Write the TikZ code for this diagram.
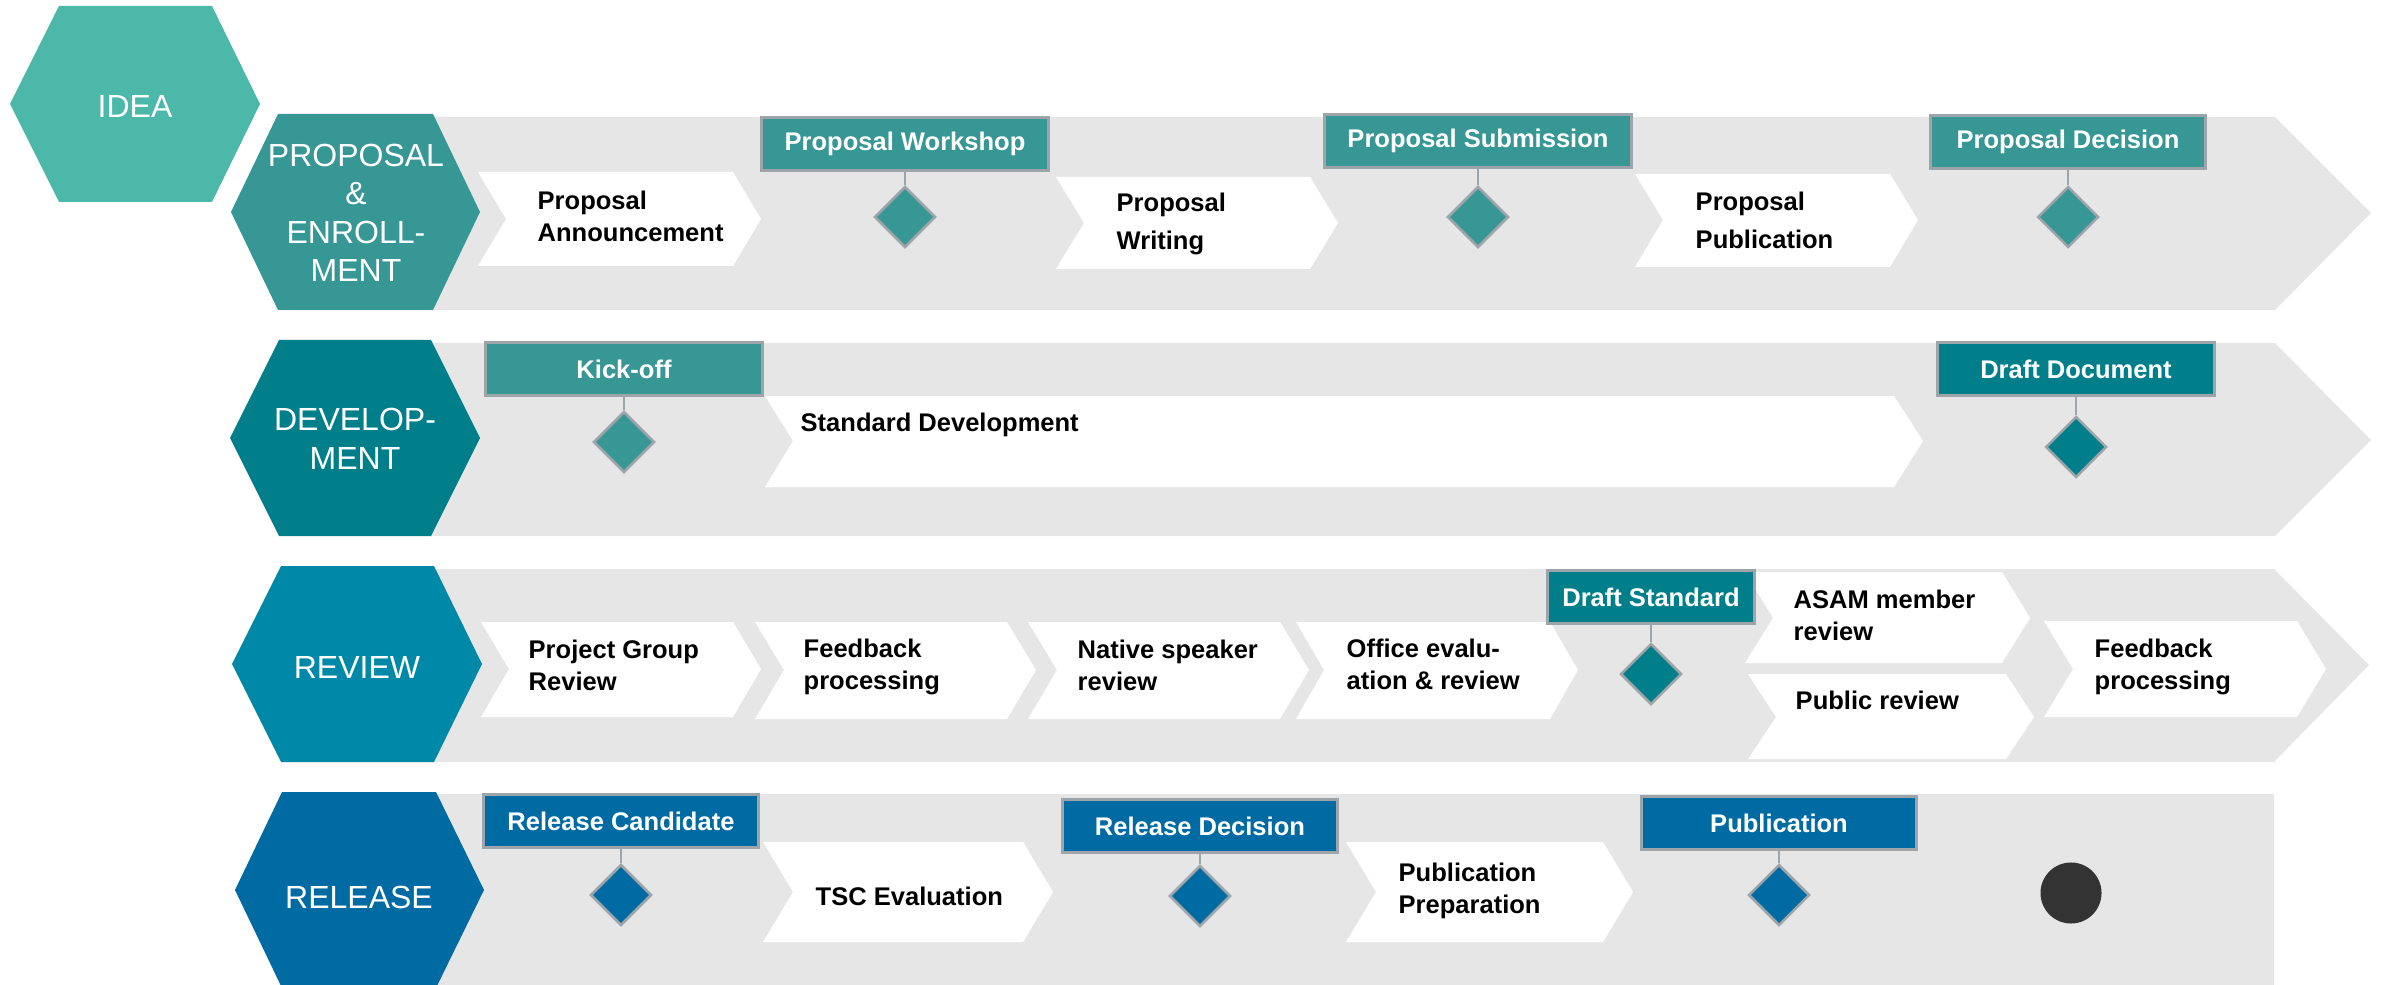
\documentclass[tikz,border=0pt]{standalone}
\usepackage{fontspec}
\setmainfont{Liberation Sans}
\usepackage{tikz}
\usetikzlibrary{shapes.geometric}
\pgfdeclarelayer{bg}
\pgfsetlayers{bg,main}

\definecolor{ideacol}{HTML}{4BB8AA}
\definecolor{propcol}{HTML}{379795}
\definecolor{devcol}{HTML}{007F8A}
\definecolor{revcol}{HTML}{0088A8}
\definecolor{relcol}{HTML}{006BA3}
\definecolor{bandcol}{HTML}{E6E6E6}
\definecolor{edgecol}{HTML}{9DA5AB}
\definecolor{dotcol}{HTML}{333333}

\newcommand{\phasefont}{\fontsize{9.1pt}{10.95pt}\selectfont}
\newcommand{\taskfont}{\fontsize{7.26pt}{9.1pt}\selectfont\bfseries}

\tikzset{
        phase/.style={text=white, align=center, font=\phasefont, inner sep=0pt},
        task/.style={anchor=west, align=left, font=\taskfont, inner sep=0pt},
        gate/.style={draw=edgecol, line width=0.03cm, minimum height=0.52cm, inner sep=0pt, text=white, font=\taskfont},
        gem/.style={shape=diamond, draw=edgecol, line width=0.025cm, minimum width=0.61cm, minimum height=0.61cm, inner sep=0pt},
        stem/.style={draw=edgecol, line width=0.02cm},
}

\begin{document}
\begin{tikzpicture}[x=0.01cm, y=-0.01cm]
        \useasboundingbox (0,0) rectangle (2387,985);
        \begin{pgfonlayer}{bg}
                % bands
                \fill[bandcol] (433,117) -- (2275,117) -- (2371,213) -- (2275,310) -- (433,310) -- cycle;
                \fill[bandcol] (431,343) -- (2275,343) -- (2371,440) -- (2275,536) -- (431,536) -- cycle;
                \fill[bandcol] (434,569) -- (2274,569) -- (2369,665) -- (2274,762) -- (434,762) -- cycle;
                \fill[bandcol] (436,794) rectangle (2274,985);
                % phases
                \fill[ideacol] (10,104) -- (59,6) -- (212,6) -- (260,104) -- (212,202) -- (59,202) -- cycle;
                \fill[propcol] (231,212) -- (278,114) -- (433,114) -- (480,212) -- (433,310) -- (278,310) -- cycle;
                \fill[devcol] (230,438) -- (279,340) -- (431,340) -- (480,438) -- (431,536) -- (279,536) -- cycle;
                \fill[revcol] (232,664) -- (281,566) -- (434,566) -- (482,664) -- (434,762) -- (281,762) -- cycle;
                \fill[relcol] (235,890) -- (282,792) -- (436,792) -- (484,890) -- (436,988) -- (282,988) -- cycle;
                % chevrons
                \fill[white] (478,172) -- (733,172) -- (761,219) -- (733,266) -- (478,266) -- (506,219) -- cycle;
                \fill[white] (1056,177) -- (1310,177) -- (1338,223) -- (1310,269) -- (1056,269) -- (1084,223) -- cycle;
                \fill[white] (1635,174) -- (1890,174) -- (1918,220) -- (1890,267) -- (1635,267) -- (1663,220) -- cycle;
                \fill[white] (765,396) -- (1894,396) -- (1923,441) -- (1894,487) -- (765,487) -- (793,441) -- cycle;
                \fill[white] (481,622) -- (733,622) -- (761,669) -- (733,717) -- (481,717) -- (509,669) -- cycle;
                \fill[white] (755,622) -- (1007,622) -- (1036,670) -- (1007,719) -- (755,719) -- (784,670) -- cycle;
                \fill[white] (1028,622) -- (1280,622) -- (1309,670) -- (1280,719) -- (1028,719) -- (1057,670) -- cycle;
                \fill[white] (1296,622) -- (1550,622) -- (1578,670) -- (1550,719) -- (1296,719) -- (1324,670) -- cycle;
                \fill[white] (1745,572) -- (2002,572) -- (2030,618) -- (2002,663) -- (1745,663) -- (1773,618) -- cycle;
                \fill[white] (1748,674) -- (2006,674) -- (2034,717) -- (2006,759) -- (1748,759) -- (1776,717) -- cycle;
                \fill[white] (2044,621) -- (2297,621) -- (2326,669) -- (2297,717) -- (2044,717) -- (2073,669) -- cycle;
                \fill[white] (763,842) -- (1023,842) -- (1053,892) -- (1023,942) -- (763,942) -- (793,892) -- cycle;
                \fill[white] (1346,842) -- (1603,842) -- (1633,892) -- (1603,942) -- (1346,942) -- (1376,892) -- cycle;
        \end{pgfonlayer}

        % phase names
        \node (idea) [phase] at (135,106) {IDEA};
        \node (prop) [phase] at (356,213) {PROPOSAL\\\&\\ENROLL-\\MENT};
        \node (dev) [phase] at (355,439) {DEVELOP-\\MENT};
        \node (rev) [phase] at (357,667) {REVIEW};
        \node (rel) [phase] at (359,897) {RELEASE};

        % tasks
        \node (ann) [task] at (537,216) {Proposal\\Announcement};
        \node (wri) [task] at (1116,224) {Proposal\\[0.06cm]Writing};
        \node (pubn) [task] at (1695,220) {Proposal\\[0.06cm]Publication};
        \node (std) [task, anchor=base west] at (800,432) {Standard Development};
        \node (pgr) [task] at (528,665) {Project Group\\Review};
        \node (fb1) [task] at (803,667) {Feedback\\processing};
        \node (nsr) [task] at (1077,665) {Native speaker\\review};
        \node (oer) [task] at (1346,664) {Office evalu-\\ation \& review};
        \node (asam) [task] at (1793,615) {ASAM member\\review};
        \node (pubr) [task, anchor=base west] at (1795,709) {Public review};
        \node (fb2) [task] at (2094,667) {Feedback\\processing};
        \node (tsc) [task, anchor=base west] at (815,905) {TSC Evaluation};
        \node (pp) [task] at (1398,891) {Publication\\Preparation};

        % milestones
        \node (pw) [gate, fill=propcol, minimum width=2.86cm] at (905,144) {Proposal Workshop};
        \node (ps) [gate, fill=propcol, minimum width=3.06cm] at (1478,141) {Proposal Submission};
        \node (pd) [gate, fill=propcol, minimum width=2.75cm] at (2068,142) {Proposal Decision};
        \node (ko) [gate, fill=propcol, minimum width=2.76cm] at (624,369) {Kick-off};
        \node (dd) [gate, fill=devcol, minimum width=2.76cm] at (2076,369) {Draft Document};
        \node (ds) [gate, fill=devcol, minimum width=2.07cm] at (1651,597) {Draft Standard};
        \node (rc) [gate, fill=relcol, minimum width=2.74cm] at (621,821) {Release Candidate};
        \node (rd) [gate, fill=relcol, minimum width=2.74cm] at (1200,826) {Release Decision};
        \node (pb) [gate, fill=relcol, minimum width=2.74cm] at (1779,823) {Publication};

        \node (pwd) [gem, fill=propcol] at (905,217) {};
        \node (psd) [gem, fill=propcol] at (1478,217) {};
        \node (pdd) [gem, fill=propcol] at (2068,217) {};
        \node (kod) [gem, fill=propcol] at (624,442) {};
        \node (ddd) [gem, fill=devcol] at (2076,447) {};
        \node (dsd) [gem, fill=devcol] at (1651,674) {};
        \node (rcd) [gem, fill=relcol] at (621,895) {};
        \node (rdd) [gem, fill=relcol] at (1200,896) {};
        \node (pbd) [gem, fill=relcol] at (1779,895) {};

        \node (done) [circle, fill=dotcol, minimum size=0.61cm, inner sep=0pt] at (2071,893) {};

        \draw (pw) edge [stem] (pwd);
        \draw (ps) edge [stem] (psd);
        \draw (pd) edge [stem] (pdd);
        \draw (ko) edge [stem] (kod);
        \draw (dd) edge [stem] (ddd);
        \draw (ds) edge [stem] (dsd);
        \draw (rc) edge [stem] (rcd);
        \draw (rd) edge [stem] (rdd);
        \draw (pb) edge [stem] (pbd);
\end{tikzpicture}
\end{document}
